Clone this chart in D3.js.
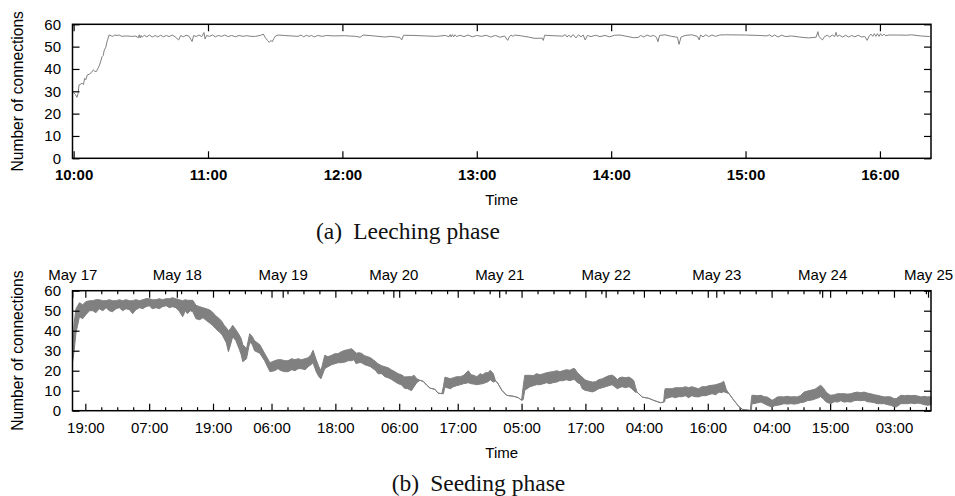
<!DOCTYPE html>
<html>
<head>
<meta charset="utf-8">
<script src="https://cdn.jsdelivr.net/npm/d3@7"></script>
<style>
  body { margin: 0; background: #fff }
  svg  { display: block }
</style>
</head>
<body>
<svg id="chart" width="955" height="496"></svg>
<script>
// ---- data -----------------------------------------------------------------

const yTicks = [0, 10, 20, 30, 40, 50, 60]

// (a) leeching phase, minutes after 10:00
const leechTickMinutes = [0, 60, 120, 180, 240, 300, 360]
const leechTickLabels  = ['10:00', '11:00', '12:00', '13:00', '14:00', '15:00', '16:00']
const leechSeries = [
  [0, 29.4], [0.8, 28.6], [1.5, 27.3], [2.0, 29], [2.4, 32.8], [3.8, 33.6], [4.4, 33], [4.9, 35.8],
  [5.5, 35.2], [6.1, 37.3], [7.2, 37.8], [7.9, 38.4], [8.8, 39.6], [9.4, 39], [10.1, 38.8], [11.0, 40.5],
  [11.6, 41.8], [12.7, 45.5], [13.2, 46], [13.7, 48.5], [14.3, 49.5], [14.9, 52.2], [15.9, 55.3], [16.8, 54.8],
  [17.5, 54.6], [18.3, 55.2], [19.4, 55.0], [20.4, 55.2], [21.5, 54.6], [23.5, 54.8], [25.8, 54.6], [27.8, 54.7],
  [28.9, 54.0], [29.3, 55.3], [29.7, 53.9], [30.1, 55.0], [30.6, 54.2], [31.5, 55.1], [32.7, 54.4], [33.9, 55.2],
  [35.1, 54.3], [36.4, 55.0], [37.6, 54.3], [38.8, 55.1], [40.1, 54.4], [41.4, 55.0], [42.6, 54.5], [44.0, 55.2],
  [45.3, 54.4], [46.9, 53.0], [47.8, 55.0], [49.0, 54.4], [50.2, 55.1], [51.5, 54.7], [52.9, 52.3], [53.6, 55.0],
  [54.7, 54.5], [56.0, 55.2], [57.2, 54.5], [58.2, 56.3], [58.7, 53.4], [59.4, 55.0], [60.7, 54.6], [62.0, 55.2],
  [63.3, 54.4], [64.6, 55.0], [66.1, 54.6], [67.5, 55.2], [69.0, 54.5], [70.6, 55.0], [72.2, 54.4], [73.9, 55.0],
  [75.6, 54.6], [77.3, 54.9], [79.2, 54.6], [81.2, 54.6], [83.3, 55.0], [84.7, 55.6], [85.6, 54.0], [86.6, 52.7],
  [87.4, 51.9], [88.1, 52.8], [88.7, 52.2], [89.4, 53.6], [90.2, 54.8], [91.4, 55.2], [94, 55.0], [97, 54.8],
  [100.2, 54.6], [101.5, 55.2], [102.7, 54.4], [103.9, 55.1], [105.1, 54.6], [106.3, 55.0], [107.4, 54.3], [109, 55],
  [111, 54.6], [113, 55.0], [116, 54.8], [121, 54.9], [126, 54.6], [127.9, 54.2], [129.3, 55.2], [134, 54.8],
  [139, 54.3], [141.6, 54.6], [145.7, 54.1], [146.5, 53.0], [147.3, 55.1], [152, 55.0], [157, 54.8], [162, 54.6],
  [166, 55.0], [167.6, 54.4], [168.1, 55.4], [168.6, 54.3], [169.1, 55.4], [169.7, 54.4], [170.3, 55.3], [171.0, 54.5],
  [172.5, 55.1], [174.3, 54.5], [176.1, 55.2], [178, 54.4], [180, 55.0], [182, 54.6], [184.2, 55.1], [186.2, 54.3],
  [188.3, 55.0], [190.4, 54.2], [192.4, 54.8], [193.8, 52.8], [194.5, 54.3], [195.3, 55.2], [196.2, 54.6], [197.0, 55.2],
  [200, 54.8], [203, 54.3], [206, 53.7], [209.2, 53.8], [209.7, 52.8], [210.3, 55.1], [214, 54.9], [218.5, 54.7],
  [219.5, 55.4], [220.3, 54.3], [221.1, 55.2], [222.0, 54.2], [223.0, 55.4], [224.3, 53.9], [225.4, 55.3], [226.5, 54.4],
  [227.5, 55.2], [228.4, 53.0], [229.4, 55.0], [231, 54.5], [233, 55.1], [235, 54.5], [237.2, 55.0], [239.3, 54.4],
  [241.5, 55.1], [243.9, 55.2], [247, 54.6], [250, 54.0], [252, 54.1], [253.2, 55], [254.6, 54.3], [256, 55.2],
  [257.5, 54.6], [259, 55.0], [260.2, 54.2], [260.9, 52.2], [261.6, 55.0], [264, 55.3], [267, 54.6], [269.6, 54.2],
  [270.3, 51.0], [271.2, 54.3], [273, 55.0], [276, 55.3], [278.5, 54.6], [279.3, 53.0], [279.9, 55.2], [281, 54.4],
  [282.2, 55.3], [283.5, 54.5], [285, 55.2], [286.6, 54.6], [288.5, 55.2], [291, 55.3], [300, 55.2], [306, 55.0],
  [309.5, 54.8], [310.7, 55.3], [311.8, 54.5], [313, 55.2], [314.5, 54.3], [316, 55.1], [318, 54.5], [320.5, 54.8],
  [324, 54.3], [328, 53.9], [331.5, 54.2], [332.3, 56.7], [332.8, 54.5], [334.3, 53.0], [335.4, 54.6], [336.5, 55.1],
  [337.6, 54.3], [338.7, 55.2], [339.8, 54.5], [340.4, 56.4], [340.9, 54.6], [342, 55.1], [343.3, 54.3], [344.7, 55.1],
  [346, 54.3], [347.4, 55.0], [348.8, 54.4], [350.3, 55.1], [351.8, 54.3], [353.2, 54.6], [354.3, 52.8], [355.2, 54.7],
  [356.0, 55.6], [356.8, 54.6], [357.5, 55.8], [358.2, 54.6], [358.9, 55.8], [359.6, 54.6], [360.3, 55.8], [361, 54.8],
  [361.8, 55.6], [362.6, 54.9], [364, 55.2], [368, 55.2], [372, 55.1], [374, 55.3], [378, 54.8], [382.3, 54.5]
]

// (b) seeding phase, hours after the first 19:00 tick
const seedTimeHours  = [0, 12, 24, 35, 47, 59, 70, 82, 94, 105, 117, 129, 140, 152]
const seedTimeLabels = ['19:00', '07:00', '19:00', '06:00', '18:00', '06:00', '17:00',
                        '05:00', '17:00', '04:00', '16:00', '04:00', '15:00', '03:00']
const seedDayHours   = [-2.45, 17.2, 37.1, 57.9, 77.8, 97.8, 118.6, 138.5, 158.4]
const seedDayLabels  = ['May 17', 'May 18', 'May 19', 'May 20', 'May 21', 'May 22', 'May 23', 'May 24', 'May 25']

// [hour, lowest, highest] number of connections seen around that hour
const seedBand = [
  [-2.41, 24, 27], [-2.1, 30, 44], [-1.75, 39, 51], [-1.1, 47, 54], [-0.5, 46, 53], [0.1, 48, 54.5],
  [0.8, 50, 55], [1.4, 50, 55], [2.0, 49, 55.5], [2.6, 51, 55.5], [3.3, 50, 55], [3.9, 51.5, 55],
  [4.5, 50, 55.5], [5.1, 49.5, 55], [5.8, 51, 55], [6.4, 51.5, 55.5], [7.0, 50, 55], [7.65, 51, 55.5],
  [8.3, 50.5, 55], [8.9, 48.5, 55], [9.5, 50.5, 55.5], [10.2, 51.5, 55], [10.8, 51, 55.5], [11.4, 52, 56],
  [12.0, 52.5, 56], [12.6, 51, 55.5], [13.3, 51.5, 55.5], [13.9, 51, 56], [14.5, 52, 55.5], [15.2, 52.5, 56],
  [15.8, 51.5, 56], [16.4, 52, 56.5], [17.0, 51.5, 56], [17.6, 50, 55.5], [18.3, 47, 55], [18.8, 50, 55.5],
  [19.2, 48.5, 55.2], [19.7, 50, 55.2], [20.2, 49.5, 55.2], [20.8, 46, 52.7], [21.5, 45.5, 52], [22.1, 46.5, 51.5],
  [22.7, 45.2, 51], [23.3, 44, 50.5], [23.9, 42.7, 49.3], [24.5, 41, 47.5], [25.2, 39.3, 46], [25.7, 38, 44.5],
  [26.1, 36, 42.7], [26.5, 34, 41.5], [26.9, 29.5, 40], [27.3, 33, 41], [27.7, 37, 42.7], [28.3, 35, 40.5],
  [28.9, 31, 38], [29.3, 28, 36], [29.6, 24.5, 33], [30.3, 26, 31], [30.9, 34.3, 38.5], [31.4, 33, 37],
  [31.8, 30, 35], [32.8, 28.7, 33], [33.7, 25, 28.7], [34.7, 19.5, 24], [35.6, 20, 25], [36.2, 21, 25.5],
  [36.8, 20, 25.5], [37.5, 19.5, 25], [38.1, 19.5, 25], [38.8, 20.5, 26], [39.4, 20, 25.5], [40.0, 21, 26],
  [40.6, 21, 25.5], [41.3, 20.5, 26], [41.9, 22, 26.5], [42.4, 23, 28], [42.8, 24, 30.2], [43.4, 19.5, 25.5],
  [43.9, 17, 22], [44.3, 16, 20], [45.0, 21, 27.7], [45.6, 22, 27], [46.3, 23, 27.7], [46.9, 23.5, 28.5],
  [47.5, 24, 28.5], [48.1, 24, 29.5], [48.8, 24.3, 30.2], [49.4, 25, 30.5], [50.0, 25, 31], [50.5, 25.5, 30],
  [50.9, 23.5, 28.7], [51.4, 24, 29], [51.9, 24, 28.7], [52.5, 23, 27.5], [53.1, 22.5, 27], [53.6, 22, 26.5],
  [54.1, 21, 25.5], [54.6, 20, 24.5], [55.0, 18.5, 23.5], [55.7, 18.5, 22.5], [56.3, 17, 22], [56.9, 16.5, 21.5],
  [57.5, 15.7, 20.5], [58.2, 14.5, 19.5], [58.8, 13.5, 18.5], [59.4, 13, 18], [60.0, 11.2, 16.9], [60.6, 11, 17],
  [61.3, 10, 17], [61.8, 12, 17.7], [62.3, 14, 16], [62.9, 15.2, 15.2], [63.5, 14.7, 14.7], [64.2, 12.7, 12.7],
  [64.8, 11.3, 11.3], [65.7, 10.7, 10.7], [66.3, 8.8, 8.8], [67.0, 8.5, 8.5], [67.3, 8.5, 12], [67.6, 11.8, 16.8],
  [68.6, 11, 16], [69.2, 12, 16.5], [69.8, 12.5, 17], [70.5, 13, 17], [71.1, 13.5, 17.7], [72.0, 14, 20],
  [72.5, 13.5, 18], [73.0, 13.3, 17.7], [73.6, 13, 17], [74.2, 13.3, 18.5], [74.7, 13.5, 18], [75.2, 14, 19],
  [75.7, 14.5, 19], [76.1, 15.5, 20.2], [76.7, 14.3, 18.5], [77.1, 14.8, 14.8], [77.4, 14.3, 14.3], [78.3, 10.2, 10.2],
  [79.2, 7.7, 7.7], [80.5, 7.2, 7.2], [81.4, 6.5, 6.5], [82.0, 5.2, 5.2], [82.3, 5.5, 12], [82.6, 10.2, 17.7],
  [83.6, 12, 17.7], [84.2, 12.5, 17.5], [84.8, 13, 18.5], [85.5, 13, 18], [86.1, 13.5, 18.5], [86.7, 14, 19],
  [87.3, 13.5, 19.3], [87.9, 14, 19.5], [88.6, 14.3, 20], [89.2, 15, 19.5], [89.8, 15, 20], [90.4, 15.5, 20.5],
  [91.1, 15, 20.2], [91.6, 15.5, 21], [92.0, 15.5, 21], [92.5, 14, 19], [93.0, 13.5, 17.7], [93.4, 11, 16.8],
  [93.9, 10.2, 15.5], [94.3, 10, 15], [95.3, 9.4, 14.3], [95.9, 10, 14.5], [96.5, 11, 15.5], [97.2, 11.5, 16],
  [97.8, 12, 16.8], [98.4, 12.5, 17.5], [99.0, 13, 17.8], [99.5, 12, 17], [100.0, 11, 15.5], [100.4, 11.5, 16.5],
  [100.9, 12, 16.8], [101.5, 11.5, 16.5], [102.2, 12, 16.8], [102.7, 11, 16], [103.1, 10, 15], [103.4, 9.2, 12],
  [103.7, 9.3, 9.3], [104.7, 6.8, 6.8], [105.9, 6.2, 6.2], [106.8, 5.2, 5.2], [108.1, 4, 4], [108.7, 4.3, 4.3],
  [108.9, 4.5, 10], [109.0, 6, 11], [109.7, 6.5, 11], [110.3, 7, 11], [110.9, 6.5, 11.5], [111.5, 7, 11.5],
  [112.2, 7, 11.5], [112.8, 7.5, 12], [113.4, 6.5, 11.5], [114.0, 7.5, 12], [114.6, 7, 11.5], [115.3, 6.9, 11],
  [115.9, 7.5, 12], [116.6, 7.5, 12], [117.2, 8, 12.5], [117.8, 8.5, 12.7], [118.5, 8, 13], [119.1, 9.3, 13.5],
  [119.6, 9, 14], [120.0, 9.5, 14.7], [120.5, 9, 10.5], [121.0, 8.5, 8.5], [121.9, 5.2, 5.2], [122.9, 1.9, 1.9],
  [123.5, 0.7, 0.7], [124.7, 0.2, 0.2], [125.0, 0.1, 0.1], [125.2, 0.5, 6], [125.3, 3.5, 7.7], [125.7, 3.5, 7.7],
  [126.4, 4, 7.5], [127.0, 4.3, 7.7], [127.6, 3.5, 7], [128.2, 2.7, 6.8], [129.1, 1.8, 5.2], [129.6, 2.5, 6],
  [130.1, 2.7, 6.9], [130.7, 3, 7], [131.3, 3.5, 6.9], [132.0, 3.3, 7.2], [132.6, 3.5, 6.9], [133.2, 3.3, 7],
  [133.8, 3.5, 6.9], [134.4, 4, 7.5], [135.1, 4.3, 9.3], [135.7, 5, 9.8], [136.3, 5.2, 10.2], [136.8, 5.5, 10.5],
  [137.3, 6, 11], [137.8, 6.5, 12], [138.2, 7, 12.7], [138.7, 6, 11.5], [139.2, 4.5, 9.5], [139.6, 4, 8.5],
  [140.1, 3.5, 7.7], [140.8, 4.5, 8], [141.4, 4.3, 8.5], [142.0, 5, 8.5], [142.6, 4.3, 8.5], [143.3, 4.5, 8.3],
  [143.9, 4.3, 8.5], [144.5, 5, 9], [145.1, 5.2, 9.3], [145.7, 5, 9], [146.4, 5.2, 9.3], [147.0, 4.5, 8.8],
  [147.6, 4.3, 8.5], [148.3, 4, 8], [148.9, 3.5, 7.7], [149.5, 3.5, 7.3], [150.2, 3.5, 6.9], [150.8, 3, 7],
  [151.4, 2.7, 6.9], [152.0, 2, 6], [152.4, 1.8, 6], [153.3, 3.5, 7.7], [154.0, 3.5, 7.5], [154.6, 3.5, 7.7],
  [155.2, 3.8, 7.5], [155.8, 3.5, 7.7], [156.5, 3.8, 7.3], [157.1, 3.5, 6.9], [157.7, 3, 7.2], [158.3, 2.7, 6.9],
  [158.96, 3, 7]
]

// ---- layout ---------------------------------------------------------------

const
  svg       = d3.select('#chart'),
  left      = 72.5,
  right     = 931,
  sans      = '"Liberation Sans", Arial, Helvetica, sans-serif',
  serif     = '"Liberation Serif", "Times New Roman", serif',
  grey      = '#808080',
  tickLen   = 7

function styleAxis(g, weight)
{
  g.select('.domain').remove()
  g.selectAll('.tick line').attr('stroke', '#000').attr('stroke-width', 1.2)
  g.selectAll('.tick text')
    .attr('fill', '#000')
    .attr('font-family', sans)
    .attr('font-size', 15)
    .attr('font-weight', weight || 'normal')
}

function drawFrame(top, bottom, yScale, title)
{
  svg.append('g')
    .attr('transform', `translate(${left},0)`)
    .call(d3.axisLeft(yScale).tickValues(yTicks).tickSizeInner(-tickLen).tickSizeOuter(0).tickPadding(11.5))
    .call(g => styleAxis(g))

  svg.append('g')
    .attr('transform', `translate(${right},0)`)
    .call(d3.axisRight(yScale).tickValues(yTicks).tickSizeInner(-tickLen).tickSizeOuter(0).tickFormat(''))
    .call(g => styleAxis(g))

  svg.append('rect')
    .attr('x', left)
    .attr('y', top)
    .attr('width', right - left)
    .attr('height', bottom - top)
    .attr('fill', 'none')
    .attr('stroke', '#000')
    .attr('stroke-width', 1.5)

  svg.append('text')
    .attr('transform', `translate(17,${(top + bottom) / 2}) rotate(-90)`)
    .attr('text-anchor', 'middle')
    .attr('dominant-baseline', 'central')
    .attr('font-family', sans)
    .attr('font-size', 15.6)
    .text(title)

  svg.append('text')
    .attr('x', (left + right) / 2)
    .attr('y', bottom + 47)
    .attr('text-anchor', 'middle')
    .attr('font-family', sans)
    .attr('font-size', 15)
    .text('Time')
}

function drawCaption(cx, y, tag, label)
{
  const text = svg.append('text')
    .attr('x', cx)
    .attr('y', y)
    .attr('text-anchor', 'middle')
    .attr('font-family', serif)
    .attr('font-size', 23.5)
    .attr('fill', '#111')

  text.append('tspan').text(tag)
  text.append('tspan').attr('dx', 11).text(label)
}

// ---- (a) leeching phase ---------------------------------------------------

const
  aTop    = 24.3,
  aBottom = 158.3,
  xA      = d3.scaleLinear().domain([-0.5, 382.8]).range([left, right]),
  yA      = d3.scaleLinear().domain([0, 60]).range([aBottom, aTop])

svg.append('g')
  .attr('transform', `translate(0,${aBottom})`)
  .call(d3.axisBottom(xA).tickValues(leechTickMinutes).tickFormat((d, i) => leechTickLabels[i])
    .tickSizeInner(-tickLen).tickSizeOuter(0).tickPadding(11.5))
  .call(g => styleAxis(g, 'bold'))

svg.append('g')
  .attr('transform', `translate(0,${aTop})`)
  .call(d3.axisTop(xA).tickValues(leechTickMinutes).tickFormat('').tickSizeInner(-tickLen).tickSizeOuter(0))
  .call(g => styleAxis(g))

svg.append('path')
  .datum(leechSeries)
  .attr('fill', 'none')
  .attr('stroke', grey)
  .attr('stroke-width', 1)
  .attr('stroke-linejoin', 'round')
  .attr('d', d3.line().x(d => xA(d[0])).y(d => yA(d[1])))

drawFrame(aTop, aBottom, yA, 'Number of connections')
drawCaption(408, 238.6, '(a)', 'Leeching phase')

// ---- (b) seeding phase ----------------------------------------------------

const
  bTop    = 290.7,
  bBottom = 410.7,
  xB      = d3.scaleLinear().domain([-2.41, 158.96]).range([left, right]),
  yB      = d3.scaleLinear().domain([0, 60]).range([bBottom, bTop])

// minor ticks every 3 hours after each labelled tick
const seedMinorHours = []
seedTimeHours.forEach((h, i) =>
{
  const next = i + 1 < seedTimeHours.length ? seedTimeHours[i + 1] : xB.domain()[1]
  for(let m = h + 3; m < next - 0.5; m += 3)
  {
    seedMinorHours.push(m)
  }
})

svg.append('g')
  .attr('transform', `translate(0,${bBottom})`)
  .call(d3.axisBottom(xB).tickValues(seedTimeHours).tickFormat((d, i) => seedTimeLabels[i])
    .tickSizeInner(-tickLen).tickSizeOuter(0).tickPadding(11.3))
  .call(g => styleAxis(g))

svg.append('g')
  .attr('transform', `translate(0,${bBottom})`)
  .call(d3.axisBottom(xB).tickValues(seedMinorHours).tickFormat('').tickSizeInner(-tickLen / 2).tickSizeOuter(0))
  .call(g => styleAxis(g))

svg.append('g')
  .attr('transform', `translate(0,${bTop})`)
  .call(d3.axisTop(xB).tickValues(seedTimeHours).tickFormat('').tickSizeInner(-tickLen).tickSizeOuter(0))
  .call(g => styleAxis(g))

svg.append('g')
  .attr('transform', `translate(0,${bTop})`)
  .call(d3.axisTop(xB).tickValues(seedMinorHours).tickFormat('').tickSizeInner(-tickLen / 2).tickSizeOuter(0))
  .call(g => styleAxis(g))

svg.append('g')
  .attr('transform', `translate(0,${bTop})`)
  .call(d3.axisTop(xB).tickValues(seedDayHours).tickFormat((d, i) => seedDayLabels[i])
    .tickSizeInner(-tickLen).tickSizeOuter(0).tickPadding(10.7))
  .call(g => styleAxis(g))

svg.append('path')
  .datum(seedBand)
  .attr('fill', grey)
  .attr('stroke', grey)
  .attr('stroke-width', 1)
  .attr('stroke-linejoin', 'round')
  .attr('d', d3.area().x(d => xB(d[0])).y0(d => yB(d[1])).y1(d => yB(d[2])))

drawFrame(bTop, bBottom, yB, 'Number of connections')
drawCaption(478.5, 491, '(b)', 'Seeding phase')
</script>
</body>
</html>
